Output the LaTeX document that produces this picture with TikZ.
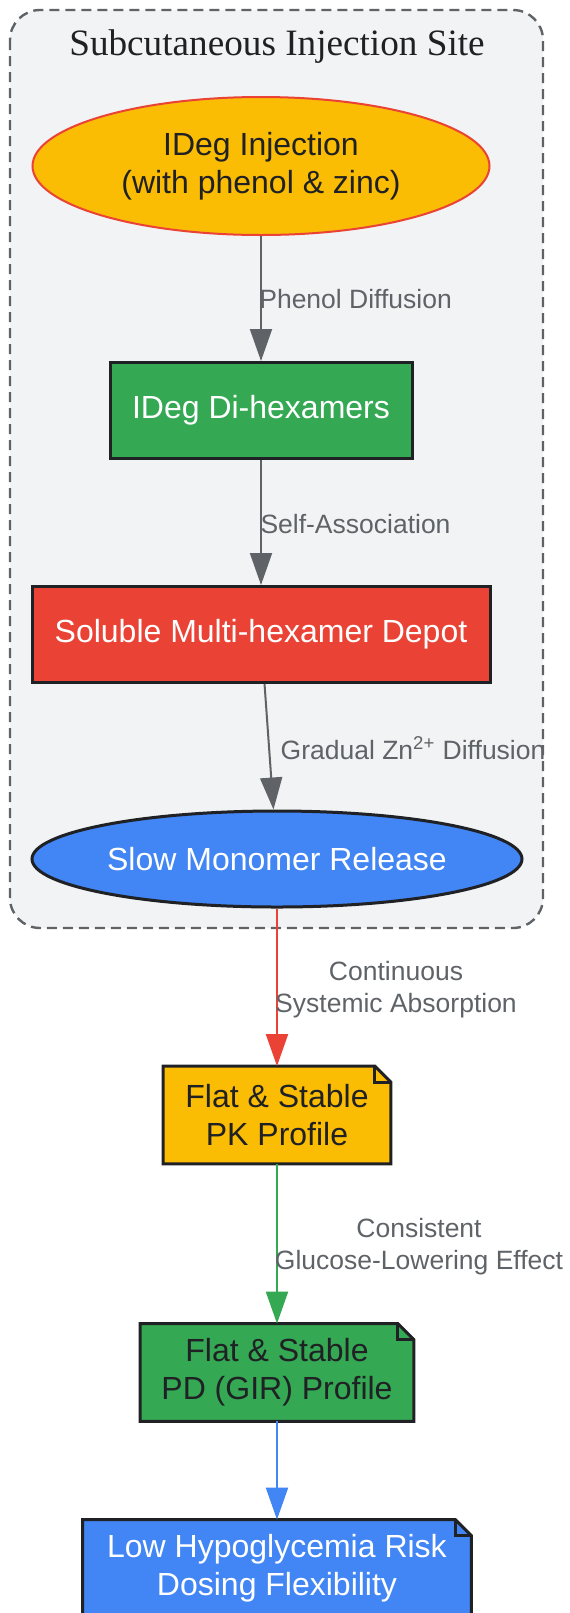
\documentclass[tikz,border=0pt]{standalone}
\usepackage{fontspec}
\setmainfont{Liberation Sans}
\newfontfamily\titleserif{Liberation Serif}
\usetikzlibrary{shapes.geometric,arrows.meta,backgrounds}

\definecolor{gyellow}{HTML}{FBBC04}
\definecolor{gred}{HTML}{EA4335}
\definecolor{ggreen}{HTML}{34A853}
\definecolor{gblue}{HTML}{4285F4}
\definecolor{ggray}{HTML}{5F6368}
\definecolor{gdark}{HTML}{202124}
\definecolor{gbg}{HTML}{F1F3F4}

\tikzset{
  box/.style={draw=gdark, line width=1.5pt, minimum height=48pt, inner sep=0pt, align=center, font=\fontsize{16}{19}\selectfont},
  oval/.style={ellipse, draw=gdark, line width=1.5pt, inner sep=0pt, align=center, font=\fontsize{16}{19}\selectfont},
  note/.style={minimum height=48.5pt, inner sep=0pt, align=center, text=gdark, font=\fontsize{16}{19}\selectfont},
  flow/.style={line width=1pt, -{Triangle[length=16pt,width=11pt]}},
  lbl/.style={text=ggray, align=center, font=\fontsize{13.25}{16}\selectfont},
}

\begin{document}
\begin{tikzpicture}[x=1pt, y=-1pt]
    \clip (0,0) rectangle (284.5,806.5);

    % injection site
    \draw[draw=ggray, fill=gbg, dash pattern=on 5pt off 3pt, line width=1.2pt, rounded corners=15pt] (5,5) rectangle (271.5,464);
    \node[text=gdark] (site) at (138.5,23.5) {\titleserif\fontsize{18.6}{22}\selectfont Subcutaneous Injection Site};

    \node[oval, fill=gyellow, draw=gred, line width=1pt, text=gdark, minimum width=228.5pt, minimum height=69pt] (inj) at (130.5,83) {IDeg Injection\\(with phenol \& zinc)};
    \node[box, fill=ggreen, text=white, minimum width=151pt] (dihex) at (130.5,205.25) {IDeg Di-hexamers};
    \node[box, fill=gred, text=white, minimum width=229pt] (depot) at (130.5,317.25) {Soluble Multi-hexamer Depot};
    \node[oval, fill=gblue, text=white, minimum width=245pt, minimum height=48pt] (mono) at (138.5,429.5) {Slow Monomer Release};

    % outcomes
    \node[note, minimum width=113.5pt] (pk) at (138.5,557.5) {Flat \& Stable\\PK Profile};
    \node[note, minimum width=136.5pt] (pd) at (138.5,686.25) {Flat \& Stable\\PD (GIR) Profile};
    \node[note, text=white, minimum width=194pt] (risk) at (138.5,784.25) {Low Hypoglycemia Risk\\Dosing Flexibility};

    \begin{scope}[on background layer]
    \foreach \n/\c in {pk/gyellow, pd/ggreen, risk/gblue} {
        \draw[draw=gdark, line width=1.5pt, fill=\c] (\n.south west) |- ([xshift=-8pt]\n.north east) -- ([yshift=-8pt]\n.north east) |- cycle;
        \draw[draw=gdark, line width=1.5pt] ([xshift=-8pt]\n.north east) |- ([yshift=-8pt]\n.north east);
    }
    \end{scope}

    \draw[flow, ggray] (inj) -- (dihex);
    \draw[flow, ggray] (dihex) -- (depot);
    \draw[flow, ggray] (depot) -- (mono);
    \draw[flow, gred] (mono) -- (pk);
    \draw[flow, ggreen] (pk) -- (pd);
    \draw[flow, gblue] (pd) -- (risk);

    \node[lbl] (phenol) at (177.8,149.5) {Phenol Diffusion};
    \node[lbl] (selfassoc) at (177.75,262) {Self-Association};
    \node[lbl] (zinc) at (206.5,374) {Gradual Zn\textsuperscript{2+} Diffusion};
    \node[lbl] (absorb) at (198,495) {Continuous\\Systemic Absorption};
    \node[lbl] (effect) at (209.5,623.5) {Consistent\\Glucose-Lowering Effect};
\end{tikzpicture}
\end{document}
